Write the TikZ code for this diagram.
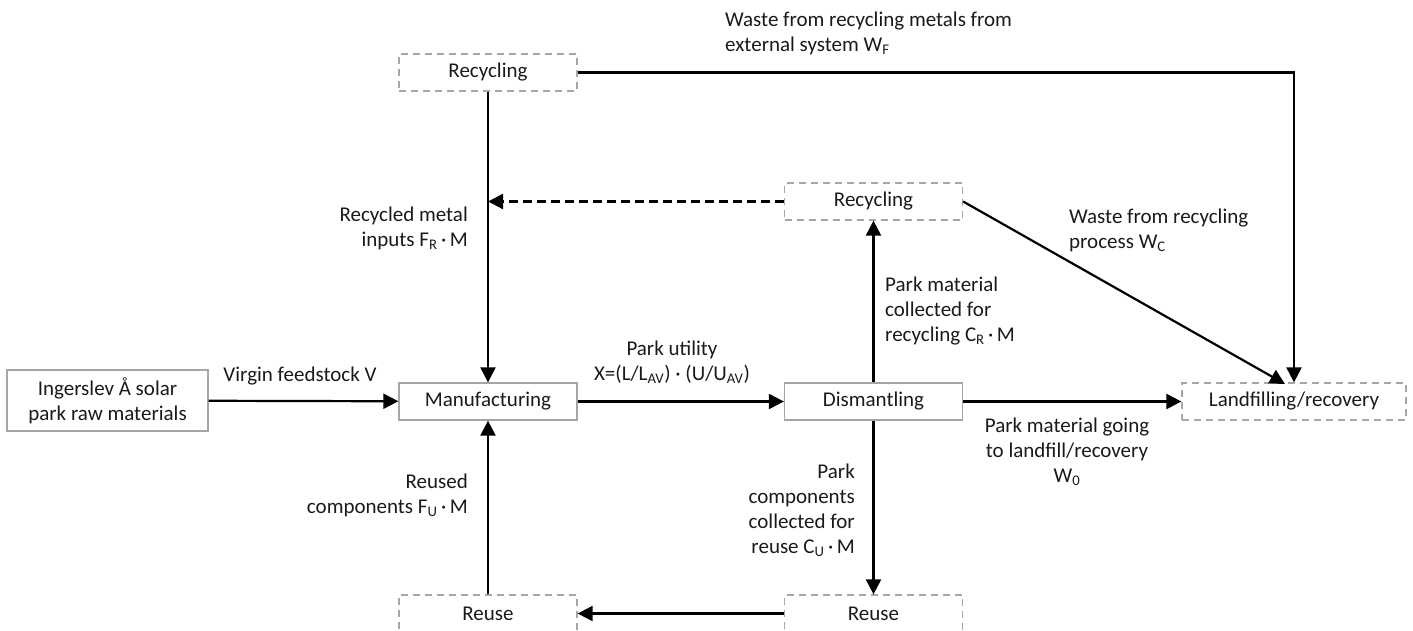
\documentclass[tikz,border=0pt]{standalone}
\usepackage{fontspec}
\setmainfont{Carlito}
\usetikzlibrary{arrows.meta}
\definecolor{boxgray}{HTML}{A6A6A6}
\definecolor{txt}{HTML}{1A1A1A}
\begin{document}
\begin{tikzpicture}[x=1pt,y=-1pt,
  every node/.style={font=\fontsize{21}{25}\selectfont, text=txt},
  solidbox/.style={draw=boxgray, line width=1.3pt, minimum width=178pt, minimum height=37pt, inner sep=0pt},
  dashbox/.style={solidbox, dash pattern=on 7pt off 5pt},
  lbl/.style={inner sep=0pt},
  arr/.style={line width=2.2pt, -{Triangle[length=15pt,width=15pt]}},
  darr/.style={arr, dash pattern=on 9pt off 5pt}]
\useasboundingbox (0,0) rectangle (1413,630);
% boxes
\node[solidbox, minimum width=201pt, minimum height=61pt, align=center] (ing) at (107.5,400.5) {Ingerslev Å solar\\park raw materials};
\node[solidbox] (man) at (488,401.5) {Manufacturing};
\node[solidbox] (dis) at (873.5,401.5) {Dismantling};
\node[dashbox, minimum width=224pt] (land) at (1294,401.5) {Landfilling/recovery};
\node[dashbox] (rec1) at (488,72.5) {Recycling};
\node[dashbox] (rec2) at (873.5,201.5) {Recycling};
\node[dashbox] (reu1) at (488,613.5) {Reuse};
\node[dashbox] (reu2) at (873.5,613.5) {Reuse};
\coordinate (mid) at (488,201.5);
\coordinate (landin) at (1285,384);
% connectors
\draw[arr] (ing) -- (man);
\draw[arr] (man) -- (dis);
\draw[arr] (dis) -- (land);
\draw[arr] (dis) -- (rec2);
\draw[arr] (dis) -- (reu2);
\draw[arr] (reu2) -- (reu1);
\draw[arr] (reu1) -- (man);
\draw[arr] (rec1) -- (man);
\draw[arr] (rec1.east) -| (land.north);
\draw[arr] (rec2.east) -- (landin);
\draw[darr] (rec2) -- (mid);
% labels
\node[lbl] (l1) at (300,376) {Virgin feedstock V};
\node[lbl, align=center] (l2) at (672,362) {Park utility\\X=(L/L\textsubscript{AV}) · (U/U\textsubscript{AV})};
\node[lbl, align=right, anchor=east] (l3) at (468,228.5) {Recycled metal\\inputs F\textsubscript{R}\,·\,M};
\node[lbl, align=right, anchor=east] (l4) at (468,495) {Reused\\components F\textsubscript{U}\,·\,M};
\node[lbl, align=left, anchor=west] (l5) at (885,311) {Park material\\collected for\\recycling C\textsubscript{R}\,·\,M};
\node[lbl, align=right, anchor=east] (l6) at (855,510) {Park\\components\\collected for\\reuse C\textsubscript{U}\,·\,M};
\node[lbl, align=center] (l7) at (1067,452) {Park material going\\to landfill/recovery\\W\textsubscript{0}};
\node[lbl, align=left, anchor=west] (l8) at (1069,230) {Waste from recycling\\process W\textsubscript{C}};
\node[lbl, align=left, anchor=west] (l9) at (725,33.5) {Waste from recycling metals from\\external system W\textsubscript{F}};
\end{tikzpicture}
\end{document}
